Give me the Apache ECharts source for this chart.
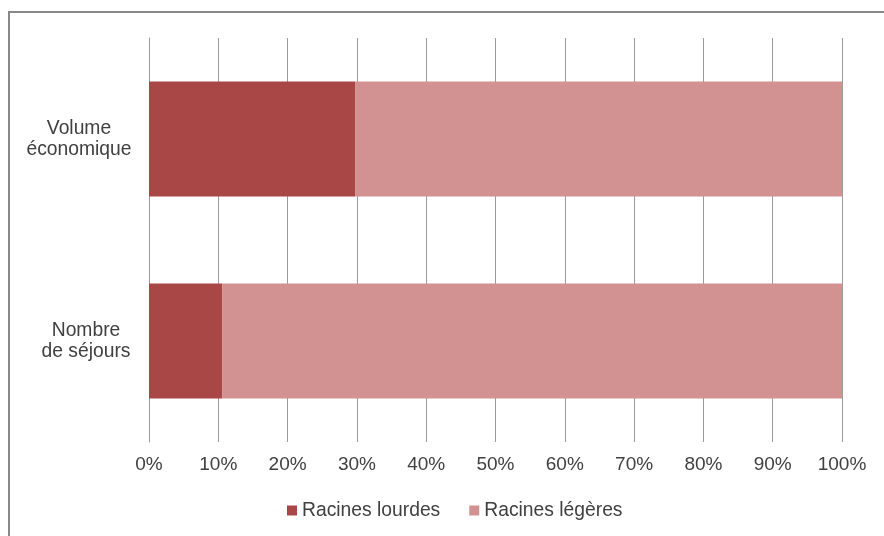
<!DOCTYPE html>
<html>
<head>
<meta charset="utf-8">
<script src="https://cdn.jsdelivr.net/npm/echarts@6/dist/echarts.min.js"></script>
<style>
html,body{margin:0;padding:0;background:#fff;}
#chart{width:884px;height:536px;}
</style>
</head>
<body>
<div id="chart"></div>
<script>
var categories = ['Volume\néconomique', 'Nombre\nde séjours'];
var seriesNames = ['Racines lourdes', 'Racines légères'];
var racinesLourdes = [29.8, 10.6];
var racinesLegeres = [70.2, 89.4];
var tickValues = [0, 10, 20, 30, 40, 50, 60, 70, 80, 90, 100];

var FONT = '"Liberation Sans", Arial, sans-serif';
var TXT = '#404040';
var FS = 19.3;
var chart = echarts.init(document.getElementById('chart'), null, {renderer: 'canvas'});
chart.setOption({
  animation: false,
  backgroundColor: '#ffffff',
  textStyle: {fontFamily: FONT},
  graphic: [{
    type: 'rect',
    shape: {x: 9, y: 12, width: 920, height: 600},
    style: {fill: 'none', stroke: '#888888', lineWidth: 2},
    silent: true, z: -1
  }],
  grid: {left: 149, right: 42, top: 38, bottom: 94, containLabel: false, outerBoundsMode: 'none'},
  legend: {
    data: seriesNames,
    left: 282, top: 496,
    icon: 'rect', itemWidth: 10, itemHeight: 10, itemGap: 29,
    textStyle: {fontSize: FS, color: TXT, fontFamily: FONT}
  },
  xAxis: {
    type: 'value', min: tickValues[0], max: tickValues[tickValues.length - 1], interval: 10,
    axisLine: {show: false}, axisTick: {show: false},
    splitLine: {show: true, lineStyle: {color: '#9a9a9a', width: 1}},
    axisLabel: {formatter: '{value}%', fontSize: 19, color: TXT, margin: 13, fontFamily: FONT}
  },
  yAxis: {
    type: 'category', inverse: true,
    data: [
      {value: categories[0], textStyle: {align: 'center', padding: [4, 0, 0, 0]}},
      {value: categories[1], textStyle: {align: 'center', padding: [4, 0, 0, 14]}}
    ],
    axisLine: {show: true, lineStyle: {color: '#9a9a9a'}},
    axisTick: {show: false},
    axisLabel: {align: 'center', margin: 70, fontSize: FS, lineHeight: 21, color: TXT, fontFamily: FONT}
  },
  series: [
    {name: seriesNames[0], type: 'bar', stack: 'total', data: racinesLourdes, barWidth: '57%', itemStyle: {color: '#A94746'}},
    {name: seriesNames[1], type: 'bar', stack: 'total', data: racinesLegeres, barWidth: '57%', itemStyle: {color: '#D29292'}}
  ]
});
</script>
</body>
</html>
